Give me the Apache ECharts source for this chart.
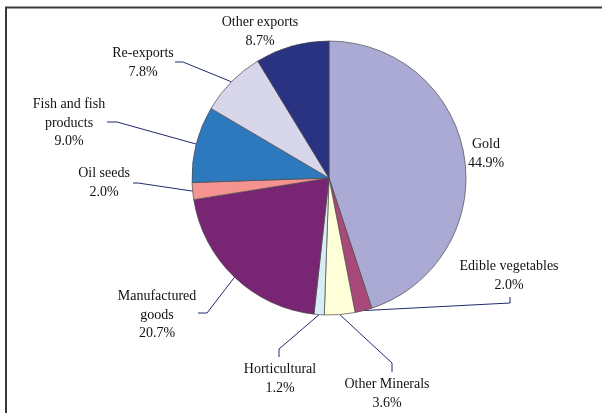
<!DOCTYPE html>
<html>
<head>
<meta charset="utf-8">
<script src="https://cdn.jsdelivr.net/npm/echarts@6/dist/echarts.min.js"></script>
<style>
  html, body { margin: 0; padding: 0; background: #fff; }
  #chart { width: 602px; height: 413px; }
</style>
</head>
<body>
<div id="chart"></div>
<script>
// Export shares (%), clockwise from twelve o'clock
const categories = [
  'Gold',
  'Edible vegetables',
  'Other Minerals',
  'Horticultural',
  'Manufactured\ngoods',
  'Oil seeds',
  'Fish and fish\nproducts',
  'Re-exports',
  'Other exports'
];
const shares = [44.9, 2.0, 3.6, 1.2, 20.7, 2.0, 9.0, 7.8, 8.7];

const colors = [
  '#aaaad4', '#a8497a', '#ffffd8', '#d6eef4', '#782574',
  '#f4938f', '#2d79be', '#d8d6ea', '#2a3282'
];

// Label block centres and leader-line elbows (bend, end), in pixels
const labelPos = [
  [486, 154], [509, 276], [387, 394], [280, 379], [157, 315],
  [104, 183], [69, 123], [143, 63], [260, 32]
];
const leaderPts = [
  null,
  [[510, 303], [510, 297]],
  [[392, 363], [392, 372]],
  [[279, 349], [279, 357]],
  [[207, 313], [198, 313]],
  [[138, 183], [133, 183]],
  [[117, 122], [107, 122]],
  [[183, 62], [175, 62]],
  null
];

const chart = echarts.init(document.getElementById('chart'), null, { renderer: 'canvas' });

const data = categories.map((name, i) => ({
  name: name,
  value: shares[i],
  itemStyle: { color: colors[i] },
  labelLine: { show: leaderPts[i] !== null }
}));

chart.setOption({
  animation: false,
  graphic: [{
    type: 'rect',
    shape: { x: 6, y: 7.5, width: 700, height: 500 },
    style: { fill: 'none', stroke: '#3a3a3a', lineWidth: 2 },
    silent: true
  }],
  series: [{
    type: 'pie',
    center: [329, 178],
    radius: 137,
    startAngle: 90,
    clockwise: true,
    avoidLabelOverlap: false,
    data: data,
    itemStyle: { borderColor: '#4a4a4a', borderWidth: 0.7 },
    label: {
      show: true,
      position: 'outside',
      fontFamily: 'Liberation Serif',
      fontSize: 14,
      lineHeight: 18.5,
      color: '#111',
      align: 'center',
      formatter: p => p.name + '\n' + p.value.toFixed(1) + '%'
    },
    labelLine: {
      show: true,
      lineStyle: { color: '#1f2a6e', width: 1 }
    },
    labelLayout: function (params) {
      const i = params.dataIndex;
      const out = {
        x: labelPos[i][0],
        y: labelPos[i][1],
        align: 'center',
        verticalAlign: 'middle'
      };
      if (leaderPts[i] && params.labelLinePoints) {
        out.labelLinePoints = [params.labelLinePoints[0], leaderPts[i][0], leaderPts[i][1]];
      }
      return out;
    }
  }]
});
</script>
</body>
</html>
